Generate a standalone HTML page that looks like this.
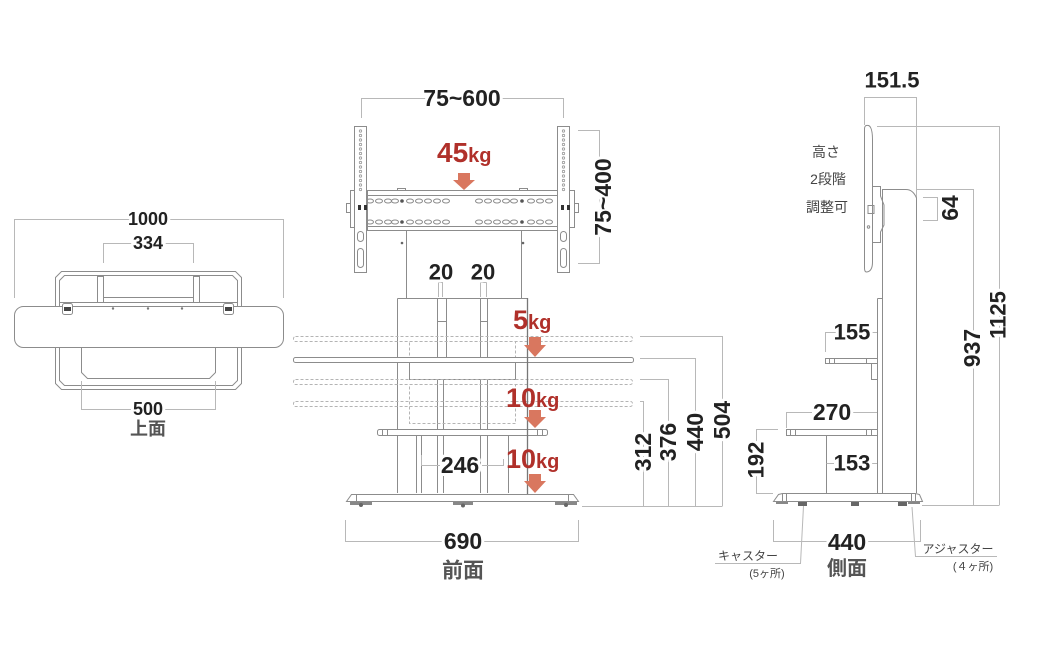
<!DOCTYPE html>
<html><head><meta charset="utf-8"><style>
html,body{margin:0;padding:0;background:#fff}
svg{display:block}
.d{stroke:#b8b8b8;stroke-width:1;fill:none}
.l{stroke:#8c8c8c;stroke-width:1;fill:none}
.lw{stroke:#8c8c8c;stroke-width:1;fill:#fff}
.ds{stroke:#b4b4b4;stroke-width:1;fill:none;stroke-dasharray:3 2}
.t{font-family:"Liberation Sans",sans-serif;font-weight:bold;fill:#222;text-anchor:middle;dominant-baseline:central;stroke:#fff;stroke-width:6;paint-order:stroke;stroke-linejoin:round}
.g{fill:#555}
.j{font-family:"Liberation Sans","Noto Sans CJK JP",sans-serif;fill:#444;text-anchor:middle}
.r{font-family:"Liberation Sans",sans-serif;font-weight:bold;fill:#b0302a}
.a{fill:#d9775f}
</style></head><body>
<svg width="1040" height="647" viewBox="0 0 1040 647" xmlns="http://www.w3.org/2000/svg">
<defs>
<g id="slots">
<ellipse cx="370" cy="0" rx="3.5" ry="2" class="l"/><ellipse cx="379" cy="0" rx="3.5" ry="2" class="l"/><ellipse cx="388" cy="0" rx="3.5" ry="2" class="l"/><ellipse cx="395" cy="0" rx="3.5" ry="2" class="l"/><circle cx="402" cy="0" r="1.8" fill="#555"/><ellipse cx="410" cy="0" rx="3.5" ry="2" class="l"/><ellipse cx="419" cy="0" rx="3.5" ry="2" class="l"/><ellipse cx="428" cy="0" rx="3.5" ry="2" class="l"/><ellipse cx="437" cy="0" rx="3.5" ry="2" class="l"/><ellipse cx="446" cy="0" rx="3.5" ry="2" class="l"/>
<ellipse cx="479" cy="0" rx="3.5" ry="2" class="l"/><ellipse cx="488" cy="0" rx="3.5" ry="2" class="l"/><ellipse cx="497" cy="0" rx="3.5" ry="2" class="l"/><ellipse cx="506" cy="0" rx="3.5" ry="2" class="l"/><ellipse cx="514" cy="0" rx="3.5" ry="2" class="l"/><circle cx="522" cy="0" r="1.8" fill="#555"/><ellipse cx="531" cy="0" rx="3.5" ry="2" class="l"/><ellipse cx="540" cy="0" rx="3.5" ry="2" class="l"/><ellipse cx="549" cy="0" rx="3.5" ry="2" class="l"/>
</g>
<g id="rail">
<rect x="0.5" y="126.5" width="12" height="146" class="lw"/>
<g fill="none" stroke="#999" stroke-width="0.8">
<circle cx="6.5" cy="131" r="1.2"/><circle cx="6.5" cy="135.5" r="1.2"/><circle cx="6.5" cy="140" r="1.2"/><circle cx="6.5" cy="144.5" r="1.2"/><circle cx="6.5" cy="149" r="1.2"/><circle cx="6.5" cy="153.5" r="1.2"/><circle cx="6.5" cy="158" r="1.2"/><circle cx="6.5" cy="162.5" r="1.2"/><circle cx="6.5" cy="167" r="1.2"/><circle cx="6.5" cy="171.5" r="1.2"/><circle cx="6.5" cy="176" r="1.2"/><circle cx="6.5" cy="180.5" r="1.2"/><circle cx="6.5" cy="185" r="1.2"/><circle cx="6.5" cy="189.5" r="1.2"/>
</g>
<rect x="3.5" y="231.5" width="6" height="10" rx="3" class="l"/>
<rect x="3.5" y="248.5" width="6" height="19" rx="3" class="l"/>
</g>
</defs>

<!-- ============ TOP VIEW ============ -->
<path class="d" d="M14.5,298 V219.5 H283.5 V298"/>
<path class="d" d="M103.5,263 V243.5 H193.5 V263"/>
<path class="l" d="M61.5,271.5 H235.5 L241.5,277.5 V383.5 L235.5,389.5 H61.5 L55.5,383.5 V277.5 Z"/>
<path class="l" d="M64.5,275.5 H232.5 L237.5,280.5 V380.5 L232.5,385.5 H64.5 L59.5,380.5 V280.5 Z"/>
<rect x="97.5" y="276.5" width="6" height="26" class="lw"/>
<rect x="193.5" y="276.5" width="6" height="26" class="lw"/>
<path class="l" d="M103.5,297.5 H193.5 M60,302.5 H237"/>
<rect x="14.5" y="306.5" width="269" height="41" rx="9" class="lw"/>
<path class="l" d="M81.5,347 V372.5 L87.5,378.5 H209.5 L215.5,372.5 V347"/>
<rect x="62.5" y="303.5" width="10" height="11" rx="2" class="lw"/>
<rect x="64" y="307" width="7" height="4" fill="#444"/>
<rect x="223.5" y="303.5" width="10" height="11" rx="2" class="lw"/>
<rect x="225" y="307" width="7" height="4" fill="#444"/>
<circle cx="113" cy="308.5" r="1.2" fill="#777"/><circle cx="148" cy="308.5" r="1.2" fill="#777"/><circle cx="182" cy="308.5" r="1.2" fill="#777"/>
<path class="d" d="M81.5,381 V409.5 H215.5 V381"/>
<text class="t" x="148" y="219" font-size="18">1000</text>
<text class="t" x="148" y="243" font-size="18">334</text>
<text class="t" x="148" y="409" font-size="18">500</text>
<text class="t g" x="148" y="429" font-size="18" style="font-family:'Liberation Sans','Noto Sans CJK JP',sans-serif">上面</text>

<!-- ============ FRONT VIEW ============ -->
<path class="d" d="M361.5,118 V98.5 H563.5 V118"/>
<path class="d" d="M578,130.5 H599.5 V263.5 H578"/>
<!-- columns above -->
<path class="l" d="M406.5,230 V298 M521.5,230 V298"/>
<circle cx="402" cy="243" r="1.3" fill="#666"/><circle cx="523" cy="243" r="1.3" fill="#666"/>
<!-- plate -->
<rect x="350.5" y="190.5" width="5" height="37" class="lw"/>
<rect x="569.5" y="190.5" width="5" height="37" class="lw"/>
<rect x="367.5" y="190.5" width="191" height="40" class="lw"/>
<path class="l" d="M367,195.5 H559 M367,226.5 H559"/>
<path class="l" d="M397.5,190.5 V188.5 H405.5 V190.5 M519.5,190.5 V188.5 H527.5 V190.5"/>
<use href="#slots" x="0" y="201"/>
<use href="#slots" x="0" y="222"/>
<use href="#rail" x="354" y="0"/>
<use href="#rail" x="557" y="0"/>
<rect x="358" y="205" width="3" height="5" fill="#333"/><rect x="364" y="205" width="3" height="5" fill="#333"/>
<rect x="561" y="205" width="3" height="5" fill="#333"/><rect x="567" y="205" width="3" height="5" fill="#333"/>
<rect x="346.5" y="203.5" width="4" height="9" class="lw"/><rect x="574.5" y="203.5" width="4" height="9" class="lw"/>
<!-- 20 ticks -->
<path class="d" d="M438.5,297 V282.5 H442.5 V297 M480.5,297 V282.5 H486.5 V297"/>
<!-- boxes -->
<path class="l" d="M397.5,298.5 H527.5 M397.5,298.5 V493 M437.5,298.5 V493 M446.5,298.5 V362 M480.5,298.5 V493 M487.5,298.5 V493 M443.5,362 V493"/>
<path class="l" d="M437.5,321.5 H446.5 M480.5,321.5 H487.5"/>
<path class="l" d="M416.5,435 V493 M421.5,435 V493 M508.5,435 V493"/>
<!-- shelves -->
<rect x="293.5" y="336.5" width="339" height="5" rx="2" class="ds"/>
<rect x="409.5" y="341.5" width="106" height="16" class="ds"/>
<rect x="293.5" y="357.5" width="340" height="5" rx="2" class="lw"/>
<rect x="409.5" y="362.5" width="106" height="17" class="lw"/>
<rect x="293.5" y="379.5" width="339" height="5" rx="2" class="ds"/>
<rect x="409.5" y="384.5" width="106" height="39" class="ds"/>
<rect x="293.5" y="401.5" width="339" height="5" rx="2" class="ds"/>
<rect x="377.5" y="429.5" width="170" height="6" rx="2" class="lw"/>
<path class="l" d="M382.5,429.5 V435.5 M387.5,429.5 V435.5 M537.5,429.5 V435.5 M542.5,429.5 V435.5"/>
<path stroke="#777" stroke-width="1.3" d="M527.5,298 V494"/>
<!-- base -->
<path class="lw" d="M346.5,501.5 L351.5,494.5 H573.5 L578.5,501.5 Z"/>
<path class="l" d="M356.5,494.5 V501.5 M568.5,494.5 V501.5"/>
<path fill="#888" d="M350,502 h22 v3 h-22 z M453,502 h20 v3 h-20 z M555,502 h22 v3 h-22 z"/>
<circle cx="361" cy="505" r="2" fill="#666"/><circle cx="463" cy="505.5" r="2" fill="#666"/><circle cx="566" cy="505" r="2" fill="#666"/>
<!-- 246 dim -->
<path class="d" d="M421.5,455 V465.5 H440 M482,465.5 H503.5 V459"/>
<text class="t" x="460" y="465" font-size="23">246</text>
<text class="t" x="441" y="272" font-size="22">20</text>
<text class="t" x="483" y="272" font-size="22">20</text>
<text class="t" x="462" y="98" font-size="23">75~600</text>
<text class="t" transform="translate(603,197) rotate(-90)" font-size="23">75~400</text>
<!-- height dims -->
<path class="d" d="M640,336.5 H722.5 V506 M640,358.5 H695.5 V506 M640,379.5 H668.5 V506 M640,401.5 H643.5 V506 M582,506.5 H722.5"/>
<text class="t" transform="translate(722,420) rotate(-90)" font-size="23">504</text>
<text class="t" transform="translate(695,432) rotate(-90)" font-size="23">440</text>
<text class="t" transform="translate(668,442) rotate(-90)" font-size="23">376</text>
<text class="t" transform="translate(643,452) rotate(-90)" font-size="23">312</text>
<!-- 690 -->
<path class="d" d="M345.5,520 V541.5 H578.5 V520"/>
<text class="t" x="463" y="541" font-size="23">690</text>
<text class="t g" x="463" y="571" font-size="21" style="font-family:'Liberation Sans','Noto Sans CJK JP',sans-serif">前面</text>
<!-- weights -->
<text class="r" x="437" y="162"><tspan font-size="28">45</tspan><tspan font-size="20">kg</tspan></text>
<path class="a" d="M458,173 h12 v7 h5 l-11,10 l-11,-10 h5 z"/>
<text class="r" x="513" y="329"><tspan font-size="27">5</tspan><tspan font-size="20">kg</tspan></text>
<path class="a" d="M529,337 h12 v8 h5 l-11,12 l-11,-12 h5 z"/>
<text class="r" x="506" y="407"><tspan font-size="27">10</tspan><tspan font-size="20">kg</tspan></text>
<path class="a" d="M529,410 h12 v7 h5 l-11,11 l-11,-11 h5 z"/>
<text class="r" x="506" y="468"><tspan font-size="27">10</tspan><tspan font-size="20">kg</tspan></text>
<path class="a" d="M529,474 h12 v7 h5 l-11,12 l-11,-12 h5 z"/>

<!-- ============ SIDE VIEW ============ -->
<path class="d" d="M864.5,125 V97.5 H916.5 V200"/>
<path class="d" d="M877,126.5 H999.5 V505 M917,189.5 H973.5 V505 M922,505.5 H999.5"/>
<path class="d" d="M923,197.5 H937.5 V220.5 H923"/>
<!-- TV profile -->
<path class="lw" d="M864.5,129 Q864.5,124.5 868.5,125.5 Q872.5,127 872.5,140 V262 Q872.5,271.5 866.5,272 Q864.5,272 864.5,268 Z"/>
<path class="lw" d="M872.5,186.5 H880.5 V196 L884,205 V225 L880.5,232 V242.5 H872.5 Z"/>
<path class="l" d="M868,205.5 h6 v8 h-6 z"/>
<circle cx="868.5" cy="227" r="1.2" class="l"/>
<!-- column -->
<path class="l" d="M882.5,493 V189.5 H906 Q913,189.5 916.5,198 V493"/>
<path class="l" d="M877.5,298.5 H882.5 M877.5,298.5 V493"/>
<!-- shelves -->
<rect x="825.5" y="358.5" width="52" height="5" class="lw"/>
<path class="l" d="M829.5,358.5 V363.5 M834.5,358.5 V363.5 M866.5,358.5 V363.5"/>
<rect x="871.5" y="363.5" width="6" height="16" class="lw"/>
<rect x="786.5" y="429.5" width="91" height="6" class="lw"/>
<path class="l" d="M790.5,429.5 V435.5 M795.5,429.5 V435.5 M866.5,429.5 V435.5 M871.5,429.5 V435.5"/>
<path class="l" d="M826.5,435.5 V493"/>
<!-- base -->
<path class="lw" d="M773.5,501.5 L778.5,494.5 L782.5,493.5 H915.5 L919.5,494.5 L922.5,501.5 Z"/>
<path class="l" d="M782.5,494 V501.5 M786.5,494 V501.5 M911.5,494 V501.5 M915.5,494 V501.5"/>
<path fill="#888" d="M776,502 h12 v2 h-12 z M908,502 h12 v2 h-12 z"/>
<path fill="#666" d="M798,502 h9 v4 h-9 z M851,502 h8 v4 h-8 z M898,502 h9 v4 h-9 z"/>
<!-- side dims -->
<path class="d" d="M825.5,352 V332.5 H836 M868,332.5 H877"/>
<path class="d" d="M786.5,428 V412.5 H812 M853,412.5 H877"/>
<path class="d" d="M778,429.5 H756.5 V493.5 H773"/>
<path class="d" d="M826.5,463.5 H834 M870,463.5 H877"/>
<text class="t" x="892" y="80" font-size="22">151.5</text>
<text class="t" x="852" y="332" font-size="22">155</text>
<text class="t" x="832" y="412" font-size="23">270</text>
<text class="t" x="852" y="463" font-size="22">153</text>
<text class="t" transform="translate(756,460) rotate(-90)" font-size="22">192</text>
<text class="t" transform="translate(950,208) rotate(-90)" font-size="23">64</text>
<text class="t" transform="translate(972,348) rotate(-90)" font-size="23">937</text>
<text class="t" transform="translate(998,315) rotate(-90)" font-size="22">1125</text>
<text class="j" x="826" y="157" font-size="14">高さ</text>
<text class="j" x="828" y="184" font-size="14">2段階</text>
<text class="j" x="827" y="212" font-size="14">調整可</text>
<!-- 440 side -->
<path class="d" d="M773.5,520 V541.5 H920.5 V520"/>
<text class="t" x="847" y="542" font-size="23">440</text>
<text class="t g" x="847" y="569" font-size="20" style="font-family:'Liberation Sans','Noto Sans CJK JP',sans-serif">側面</text>
<!-- caster labels -->
<path class="d" d="M715,563.5 H800.5 L803.5,506"/>
<text class="j" x="748" y="560" font-size="12">キャスター</text>
<text class="j" x="767" y="577" font-size="11">(5ヶ所)</text>
<path class="d" d="M912,507 L915.5,556.5 H997"/>
<text class="j" x="958" y="553" font-size="12">アジャスター</text>
<text class="j" x="973" y="570" font-size="11">(４ヶ所)</text>
</svg>
</body></html>
